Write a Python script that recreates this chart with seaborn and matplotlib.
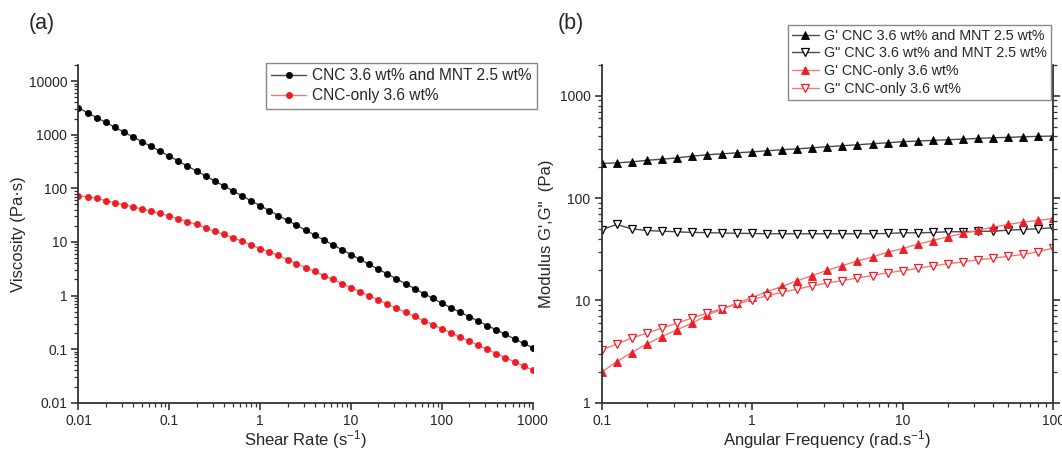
import numpy as np
import pandas as pd
import matplotlib
matplotlib.use("Agg")
import matplotlib.pyplot as plt
import matplotlib.ticker as mticker
import seaborn as sns

# ---------------- data ----------------
shear_rate = [0.01, 0.0126, 0.0158, 0.02, 0.0251, 0.0316, 0.0398, 0.0501, 0.0631, 0.0794,
              0.1, 0.126, 0.158, 0.2, 0.251, 0.316, 0.398, 0.501, 0.631, 0.794,
              1, 1.26, 1.58, 2, 2.51, 3.16, 3.98, 5.01, 6.31, 7.94,
              10, 12.6, 15.8, 20, 25.1, 31.6, 39.8, 50.1, 63.1, 79.4,
              100, 126, 158, 200, 251, 316, 398, 501, 631, 794, 1000]
visc_cnc_mnt = [3162, 2570, 2089, 1698, 1380, 1122, 912, 741, 603, 490,
                398, 322, 260, 210, 170, 137, 111, 89.7, 72.4, 58.6,
                47.3, 38.4, 31.1, 25.2, 20.5, 16.6, 13.4, 10.9, 8.83, 7.16,
                5.81, 4.71, 3.82, 3.10, 2.52, 2.04, 1.66, 1.34, 1.09, 0.885,
                0.718, 0.593, 0.490, 0.404, 0.333, 0.275, 0.228, 0.188, 0.155, 0.128, 0.106]
visc_cnc = [71.8, 69.7, 65.0, 58.6, 53.7, 49.3, 45.2, 40.9, 37.6, 34.0,
            30.3, 27.0, 23.7, 21.2, 18.3, 15.8, 13.9, 11.9, 10.3, 8.8,
            7.5, 6.5, 5.6, 4.69, 3.95, 3.33, 2.81, 2.36, 1.99, 1.67,
            1.41, 1.18, 0.99, 0.828, 0.693, 0.581, 0.486, 0.407, 0.340, 0.285,
            0.239, 0.200, 0.167, 0.141, 0.118, 0.0986, 0.0826, 0.0692, 0.0579, 0.0486, 0.0407]

ang_freq = [0.1, 0.126, 0.158, 0.2, 0.251, 0.316, 0.398, 0.501, 0.631, 0.794,
            1, 1.26, 1.58, 2, 2.51, 3.16, 3.98, 5.01, 6.31, 7.94,
            10, 12.6, 15.8, 20, 25.1, 31.6, 39.8, 50.1, 63.1, 79.4, 100]
gp_cnc_mnt = [218, 221, 226, 234, 240, 247, 257, 265, 271, 277,
              283, 290, 297, 303, 310, 318, 325, 332, 340, 347,
              356, 361, 366, 372, 377, 383, 389, 392, 398, 401, 404]
gpp_cnc_mnt = [49.3, 55.2, 50.1, 48.2, 47.5, 46.8, 46.2, 45.9, 45.6, 45.3,
               45.1, 44.8, 44.8, 44.8, 44.8, 44.8, 44.8, 44.8, 44.8, 45.1,
               45.8, 45.8, 46.1, 46.9, 46.9, 47.2, 47.5, 48.5, 49.3, 50.1, 51.3]
gp_cnc = [1.99, 2.52, 3.09, 3.76, 4.43, 5.16, 6.0, 7.13, 8.24, 9.44,
          10.7, 12.2, 13.7, 15.6, 17.5, 19.7, 21.9, 24.3, 26.6, 29.6,
          32.1, 35.4, 38.5, 41.8, 45.1, 48.5, 52.0, 55.2, 58.2, 60.5, 63.2]
gpp_cnc = [3.29, 3.74, 4.28, 4.79, 5.36, 6.0, 6.72, 7.52, 8.29, 9.22,
           10.2, 11.1, 12.0, 12.9, 13.9, 14.8, 15.6, 16.6, 17.5, 18.6,
           19.5, 20.6, 21.7, 22.8, 23.8, 24.9, 25.8, 27.0, 28.1, 29.9, 32.4]

labels_a = ["CNC 3.6 wt% and MNT 2.5 wt%", "CNC-only 3.6 wt%"]
labels_b = ["G' CNC 3.6 wt% and MNT 2.5 wt%", 'G" CNC 3.6 wt% and MNT 2.5 wt%',
            "G' CNC-only 3.6 wt%", 'G" CNC-only 3.6 wt%']

# ---------------- style ----------------
sns.set_style("ticks")
plt.rcParams['font.family'] = ['Liberation Sans', 'DejaVu Sans']
plt.rcParams['mathtext.fontset'] = 'custom'
plt.rcParams['mathtext.rm'] = 'Liberation Sans'
plt.rcParams['mathtext.it'] = 'Liberation Sans:italic'
plt.rcParams['mathtext.default'] = 'regular'

BLACK_LINE = "#4a4a4a"
RED = "#ee1c25"
RED_LINE = "#f47a7a"
SPINE = "#333333"

fig = plt.figure(figsize=(10.62, 4.57), dpi=100)
ax1 = fig.add_axes([0.0739, 0.1188, 0.4277, 0.739])
ax2 = fig.add_axes([0.5666, 0.1188, 0.4250, 0.739])

df_a = pd.DataFrame({"rate": shear_rate, "v1": visc_cnc_mnt, "v2": visc_cnc})
df_b = pd.DataFrame({"w": ang_freq, "g1": gp_cnc_mnt, "g2": gpp_cnc_mnt,
                     "g3": gp_cnc, "g4": gpp_cnc})

# ---------------- panel (a) ----------------
sns.lineplot(data=df_a, x="rate", y="v1", ax=ax1, color=BLACK_LINE, lw=1.0,
             marker="o", markersize=4.5, markerfacecolor="black",
             markeredgecolor="black", markeredgewidth=0.5, label=labels_a[0])
sns.lineplot(data=df_a, x="rate", y="v2", ax=ax1, color=RED_LINE, lw=1.0,
             marker="o", markersize=4.5, markerfacecolor=RED,
             markeredgecolor=RED, markeredgewidth=0.5, label=labels_a[1])
ax1.set_xscale("log")
ax1.set_yscale("log")
ax1.set_xlim(0.01, 1000)
ax1.set_ylim(0.01, 20000)
ax1.set_xlabel(r"Shear Rate (s$^{-1}$)", fontsize=12, va="center")
ax1.set_ylabel("Viscosity (Pa·s)", fontsize=12, va="center")
ax1.spines["top"].set_visible(False)
ax1.spines["right"].set_visible(False)
ax1.xaxis.set_label_coords(0.5, -0.11)
ax1.yaxis.set_label_coords(-0.131, 0.5)

# ---------------- panel (b) ----------------
sns.lineplot(data=df_b, x="w", y="g1", ax=ax2, color=BLACK_LINE, lw=1.0,
             marker="^", markersize=5.8, markerfacecolor="black",
             markeredgecolor="black", markeredgewidth=0.6, label=labels_b[0])
sns.lineplot(data=df_b, x="w", y="g2", ax=ax2, color=BLACK_LINE, lw=1.0,
             marker="v", markersize=5.8, markerfacecolor="white",
             markeredgecolor="black", markeredgewidth=0.9, label=labels_b[1])
sns.lineplot(data=df_b, x="w", y="g3", ax=ax2, color=RED_LINE, lw=1.0,
             marker="^", markersize=5.8, markerfacecolor=RED,
             markeredgecolor=RED, markeredgewidth=0.6, label=labels_b[2])
sns.lineplot(data=df_b, x="w", y="g4", ax=ax2, color=RED_LINE, lw=1.0,
             marker="v", markersize=5.8, markerfacecolor="white",
             markeredgecolor=RED, markeredgewidth=0.9, label=labels_b[3])
ax2.set_xscale("log")
ax2.set_yscale("log")
ax2.set_xlim(0.1, 100)
ax2.set_ylim(1, 2000)
ax2.set_xlabel(r"Angular Frequency (rad.s$^{-1}$)", fontsize=12, va="center")
ax2.set_ylabel('Modulus G\',G"  (Pa)', fontsize=12, va="center")
ax2.spines["top"].set_visible(False)
ax2.xaxis.set_label_coords(0.5, -0.11)
ax2.yaxis.set_label_coords(-0.123, 0.5)

fmt = mticker.FuncFormatter(lambda v, p: "{:g}".format(v))
for ax in (ax1, ax2):
    for sp in ax.spines.values():
        sp.set_color(SPINE)
        sp.set_linewidth(1.3)
    ax.xaxis.set_major_formatter(fmt)
    ax.yaxis.set_major_formatter(fmt)
    ax.xaxis.set_minor_formatter(mticker.NullFormatter())
    ax.yaxis.set_minor_formatter(mticker.NullFormatter())
    ax.xaxis.set_minor_locator(mticker.LogLocator(base=10, subs=np.arange(2, 10), numticks=20))
    ax.yaxis.set_minor_locator(mticker.LogLocator(base=10, subs=np.arange(2, 10), numticks=20))
    ax.tick_params(which="major", direction="out", length=5, width=1.2,
                   color=SPINE, labelsize=10, pad=3)
    ax.tick_params(which="minor", direction="out", length=3, width=0.9, color=SPINE)

ax2.tick_params(which="both", right=True, labelright=False)

# legends
leg1 = ax1.legend(loc="upper left", bbox_to_anchor=(266 / 1062, 1 - 63 / 457),
                  bbox_transform=fig.transFigure, fontsize=11.2, frameon=True,
                  fancybox=False, edgecolor="#888888", framealpha=1,
                  handlelength=2.2, handletextpad=0.4, borderpad=0.35,
                  labelspacing=0.3, borderaxespad=0)
leg1.get_frame().set_linewidth(1.0)
leg2 = ax2.legend(loc="upper left", bbox_to_anchor=(788 / 1062, 1 - 25 / 457),
                  bbox_transform=fig.transFigure, fontsize=10.3, frameon=True,
                  fancybox=False, edgecolor="#888888", framealpha=1,
                  handlelength=1.9, handletextpad=0.4, borderpad=0.25,
                  labelspacing=0.27, borderaxespad=0)
leg2.get_frame().set_linewidth(1.0)

fig.text(42 / 1062, 1 - 24 / 457, "(a)", fontsize=15.5, ha="center", va="center")
fig.text(571 / 1062, 1 - 24 / 457, "(b)", fontsize=15.5, ha="center", va="center")

fig.savefig("out.png", dpi=100)
